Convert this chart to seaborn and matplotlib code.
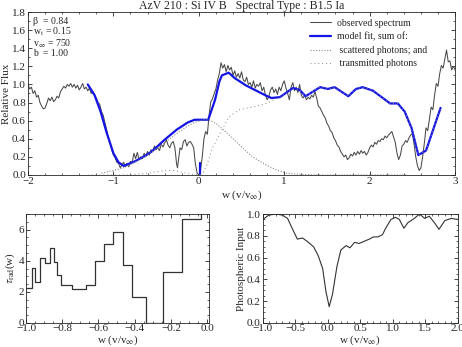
import numpy as np
import pandas as pd
import seaborn as sns
import matplotlib
matplotlib.use('Agg')
import matplotlib.pyplot as plt
from matplotlib.ticker import AutoMinorLocator, MultipleLocator
from matplotlib.lines import Line2D

# observed spectrum (w, relative flux)
obs_w = [-2.00, -1.98, -1.96, -1.94, -1.92, -1.90, -1.88, -1.86, -1.84, -1.82, -1.80, -1.78, -1.76, -1.74,
         -1.72, -1.70, -1.68, -1.66, -1.64, -1.62, -1.60, -1.58, -1.56, -1.54, -1.52, -1.50, -1.48, -1.46,
         -1.44, -1.42, -1.40, -1.38, -1.36, -1.34, -1.32, -1.30, -1.28, -1.26, -1.24, -1.22, -1.20, -1.18,
         -1.16, -1.14, -1.12, -1.10, -1.08, -1.06, -1.04, -1.02, -1.00, -0.98, -0.96, -0.94, -0.92, -0.90,
         -0.88, -0.86, -0.84, -0.82, -0.80, -0.78, -0.76, -0.74, -0.72, -0.70, -0.68, -0.66, -0.64, -0.62,
         -0.60, -0.58, -0.56, -0.54, -0.52, -0.50, -0.48, -0.46, -0.44, -0.42, -0.40, -0.38, -0.36, -0.34,
         -0.32, -0.30, -0.28, -0.26, -0.25, -0.24, -0.22, -0.20, -0.18, -0.16, -0.14, -0.12, -0.10, -0.08,
         -0.06, -0.04, -0.02, 0.00, 0.02, 0.04, 0.06, 0.08, 0.10, 0.12, 0.14, 0.16, 0.18, 0.20, 0.22, 0.24,
         0.26, 0.28, 0.30, 0.32, 0.34, 0.36, 0.38, 0.40, 0.42, 0.44, 0.46, 0.48, 0.50, 0.52, 0.54, 0.56,
         0.58, 0.60, 0.62, 0.64, 0.66, 0.68, 0.70, 0.72, 0.74, 0.76, 0.78, 0.80, 0.82, 0.84, 0.86, 0.88,
         0.90, 0.92, 0.94, 0.96, 0.98, 1.00, 1.02, 1.04, 1.06, 1.08, 1.10, 1.12, 1.14, 1.16, 1.18, 1.20,
         1.22, 1.24, 1.26, 1.28, 1.30, 1.32, 1.34, 1.36, 1.38, 1.40, 1.42, 1.44, 1.46, 1.48, 1.50, 1.52,
         1.54, 1.56, 1.58, 1.60, 1.62, 1.64, 1.66, 1.68, 1.70, 1.72, 1.74, 1.76, 1.78, 1.80, 1.82, 1.84,
         1.86, 1.88, 1.90, 1.92, 1.94, 1.96, 1.98, 2.00, 2.02, 2.04, 2.06, 2.08, 2.10, 2.12, 2.14, 2.16,
         2.18, 2.20, 2.22, 2.24, 2.26, 2.28, 2.30, 2.32, 2.34, 2.36, 2.38, 2.40, 2.42, 2.44, 2.46, 2.48,
         2.50, 2.52, 2.54, 2.56, 2.58, 2.60, 2.62, 2.64, 2.66, 2.68, 2.70, 2.72, 2.74, 2.76, 2.78, 2.80,
         2.82, 2.84, 2.86, 2.88, 2.90, 2.92, 2.94, 2.96, 2.98, 3.00]
obs_flux = [1.00, 0.95, 0.97, 0.90, 0.93, 0.86, 0.88, 0.80, 0.76, 0.73, 0.74, 0.79, 0.85, 0.82,
            0.86, 0.81, 0.83, 0.87, 0.85, 0.92, 0.95, 0.98, 0.96, 1.00, 0.98, 1.01, 0.97, 1.00,
            0.96, 0.99, 0.94, 0.97, 1.01, 0.95, 0.97, 0.93, 0.96, 0.90, 0.92, 0.88, 0.85, 0.80,
            0.78, 0.70, 0.66, 0.58, 0.50, 0.42, 0.36, 0.28, 0.22, 0.19, 0.14, 0.13, 0.08, 0.11,
            0.14, 0.09, 0.13, 0.09, 0.15, 0.14, 0.24, 0.18, 0.25, 0.17, 0.20, 0.18, 0.24, 0.21,
            0.26, 0.22, 0.28, 0.26, 0.32, 0.28, 0.30, 0.27, 0.34, 0.31, 0.35, 0.39, 0.33, 0.30,
            0.35, 0.37, 0.30, 0.12, 0.08, 0.15, 0.30, 0.28, 0.37, 0.39, 0.32, 0.36, 0.37, 0.34,
            0.30, 0.12, 0.02, 0.00, 0.05, 0.20, 0.40, 0.48, 0.45, 0.66, 0.81, 0.84, 0.90, 0.95, 1.05, 1.12,
            1.24, 1.18, 1.22, 1.14, 1.21, 1.16, 1.19, 1.10, 1.15, 1.08, 1.12, 1.07, 1.14, 1.05, 1.03, 1.08,
            1.00, 1.02, 0.97, 1.04, 0.96, 1.00, 0.98, 1.02, 0.93, 0.97, 0.88, 0.83, 0.87, 0.94, 0.97, 0.91,
            0.95, 0.89, 0.97, 0.93, 1.00, 1.04, 0.96, 0.90, 0.83, 0.97, 1.02, 0.93, 0.97, 0.91, 1.00, 0.88,
            0.85, 0.88, 0.83, 0.86, 0.84, 0.88, 0.86, 0.92, 0.85, 0.76, 0.74, 0.70, 0.66, 0.63, 0.57, 0.54,
            0.49, 0.47, 0.41, 0.38, 0.33, 0.31, 0.26, 0.23, 0.20, 0.22, 0.17, 0.19, 0.23, 0.21, 0.25, 0.22,
            0.26, 0.23, 0.27, 0.24, 0.26, 0.22, 0.25, 0.30, 0.33, 0.31, 0.36, 0.34, 0.38, 0.37, 0.40, 0.39,
            0.43, 0.41, 0.44, 0.46, 0.48, 0.42, 0.36, 0.24, 0.17, 0.22, 0.32, 0.34, 0.38, 0.36, 0.41, 0.44,
            0.46, 0.34, 0.20, 0.10, 0.05, 0.08, 0.20, 0.35, 0.52, 0.49, 0.62, 0.75, 0.72, 0.88, 1.01, 0.98,
            1.12, 1.21, 1.18, 1.28, 1.38, 1.25, 1.26, 1.16, 1.20, 1.16]

# model fit
model_w = [-1.30, -1.22, -1.15, -1.08, -1.00, -0.94, -0.88, -0.75, -0.63, -0.55, -0.40, -0.26, -0.13,
           -0.05, 0.11, 0.19, 0.24, 0.27, 0.35, 0.42, 0.55, 0.78, 0.85, 0.95, 1.10, 1.18, 1.25, 1.42,
           1.51, 1.59, 1.75, 1.84, 1.92, 2.04, 2.24, 2.33, 2.41, 2.49, 2.57, 2.66, 2.83]
model_flux = [1.00, 0.88, 0.70, 0.47, 0.24, 0.14, 0.10, 0.15, 0.21, 0.26, 0.39, 0.50, 0.58,
              0.61, 0.61, 0.83, 1.03, 1.10, 1.13, 1.07, 0.99, 0.88, 0.85, 0.86, 0.96, 0.94, 0.87, 0.97,
              0.95, 0.97, 0.87, 0.95, 0.97, 0.93, 0.79, 0.79, 0.70, 0.52, 0.22, 0.27, 0.74]
model2_w = [0.008, 0.008]
model2_flux = [0.13, 0.0]

# scattered photons
scat_w = [-1.14, -1.00, -0.88, -0.75, -0.60, -0.45, -0.30, -0.15, -0.05, 0.05, 0.12, 0.20, 0.25,
          0.30, 0.39, 0.50, 0.63, 0.79, 0.90, 1.02, 1.15, 1.40, 1.80, 2.20, 2.45]
scat_flux = [0.02, 0.05, 0.08, 0.14, 0.22, 0.32, 0.43, 0.53, 0.58, 0.61, 0.61, 0.57, 0.53,
             0.49, 0.41, 0.31, 0.20, 0.11, 0.06, 0.02, 0.01, 0.0, 0.0, 0.0, 0.0]

# transmitted photons
trans_w = [-1.30, -1.00, -0.80, -0.60, -0.40, -0.30, -0.20, -0.10, 0.00, 0.05, 0.10, 0.15, 0.25,
           0.35, 0.47, 0.63, 0.79, 0.95, 1.10, 1.18, 1.25, 1.42, 1.51, 1.59, 1.75, 1.84, 1.92, 2.04,
           2.24, 2.33, 2.41, 2.49, 2.57, 2.66, 2.83]
trans_flux = [0.0, 0.0, 0.0, 0.02, 0.05, 0.05, 0.03, 0.01, 0.0, 0.03, 0.12, 0.28, 0.46,
              0.64, 0.72, 0.75, 0.79, 0.86, 0.95, 0.94, 0.87, 0.97, 0.95, 0.97, 0.87, 0.95, 0.97, 0.93,
              0.79, 0.79, 0.70, 0.52, 0.22, 0.27, 0.74]

# tau_rad step function (bin left edges)
tau_w = [-1.000, -0.969, -0.950, -0.922, -0.893, -0.870, -0.848, -0.830, -0.809, -0.746, -0.670,
         -0.617, -0.569, -0.519, -0.467, -0.415, -0.339, -0.241, -0.139, -0.033, 0.0]
tau_val = [2.27, 3.52, 2.61, 4.15, 3.84, 4.82, 3.91, 3.11, 2.42, 2.16, 2.42,
           3.97, 5.10, 5.85, 3.74, 1.68, 0.0, 3.26, 6.65, 7.5, 7.5]

# photospheric input
phot_w = [-1.00, -0.91, -0.80, -0.70, -0.62, -0.55, -0.47, -0.39, -0.32, -0.22, -0.15, -0.08, -0.03,
          0.02, 0.07, 0.14, 0.20, 0.28, 0.34, 0.41, 0.48, 0.56, 0.64, 0.70, 0.77, 0.84, 0.89, 0.97,
          1.04, 1.10, 1.17, 1.23, 1.33, 1.41, 1.49, 1.56, 1.64, 1.71, 1.80, 1.90, 2.00]
phot_val = [0.95, 0.99, 1.00, 0.99, 0.96, 0.87, 0.77, 0.78, 0.75, 0.70, 0.62, 0.50, 0.29,
            0.15, 0.26, 0.52, 0.67, 0.71, 0.69, 0.74, 0.73, 0.75, 0.77, 0.79, 0.79, 0.81, 0.87, 0.95,
            0.97, 0.95, 0.87, 0.92, 0.96, 1.00, 0.96, 0.98, 0.92, 0.86, 0.94, 0.96, 0.95]

sns.set_style('ticks')
plt.rcParams['font.family'] = ['Liberation Serif', 'DejaVu Serif']
plt.rcParams['mathtext.fontset'] = 'stix'
plt.rcParams['font.size'] = 8
plt.rcParams['xtick.direction'] = 'in'
plt.rcParams['ytick.direction'] = 'in'
plt.rcParams['xtick.top'] = True
plt.rcParams['ytick.right'] = True
plt.rcParams['xtick.labelsize'] = 8
plt.rcParams['ytick.labelsize'] = 8
plt.rcParams['axes.linewidth'] = 0.6

fig = plt.figure(figsize=(4.62, 3.47), dpi=100)
ax1 = fig.add_axes([0.0606, 0.4957, 0.9244, 0.4697])
ax2 = fig.add_axes([0.0563, 0.0692, 0.396, 0.314])
ax3 = fig.add_axes([0.569, 0.0692, 0.422, 0.314])

grey = '#4a4a4a'
dots = '#8a8a8a'
blue = '#1414e6'

sns.lineplot(x=obs_w, y=obs_flux, ax=ax1, color=grey, lw=0.75, sort=False, estimator=None)
sns.lineplot(x=model_w, y=model_flux, ax=ax1, color=blue, lw=1.6, sort=False, estimator=None)
sns.lineplot(x=model2_w, y=model2_flux, ax=ax1, color=blue, lw=1.6, sort=False, estimator=None)
sns.lineplot(x=scat_w, y=scat_flux, ax=ax1, color=dots, lw=0.8, ls=(0, (1, 1.5)), sort=False, estimator=None)
sns.lineplot(x=trans_w, y=trans_flux, ax=ax1, color=dots, lw=0.7, ls=(0, (1, 3)), sort=False, estimator=None)

ax1.set_xlim(-2, 3)
ax1.set_ylim(0, 1.8)
ax1.xaxis.set_major_locator(MultipleLocator(1))
ax1.yaxis.set_major_locator(MultipleLocator(0.2))
ax1.xaxis.set_minor_locator(AutoMinorLocator(5))
ax1.yaxis.set_minor_locator(AutoMinorLocator(2))
ax1.set_ylabel('Relative Flux', labelpad=1)
ax1.set_xlabel(r'w (v/v$_\infty$)', labelpad=2)
ax1.set_title('AzV 210 : Si IV B   Spectral Type : B1.5 Ia', fontsize=8.5, pad=2)
ax1.text(0.012, 0.972, 'β  = 0.84\nw$_{\\rm t}$ = 0.15\nv$_\\infty$ = 750\nb  = 1.00',
         transform=ax1.transAxes, ha='left', va='top', fontsize=7, linespacing=0.95)

handles = [Line2D([], [], color=grey, lw=0.75),
           Line2D([], [], color=blue, lw=1.6),
           Line2D([], [], color=dots, lw=0.8, ls=(0, (1, 1.5))),
           Line2D([], [], color=dots, lw=0.7, ls=(0, (1, 3)))]
labels = ['observed spectrum', 'model fit, sum of:', ' scattered photons; and', ' transmitted photons']
ax1.legend(handles, labels, loc='upper right', frameon=False, fontsize=7,
           handlelength=2.2, handletextpad=0.6, labelspacing=0.45, borderaxespad=0.3,
           bbox_to_anchor=(0.95, 1.0))

sns.lineplot(x=tau_w, y=tau_val, ax=ax2, color='#333333', lw=0.9, drawstyle='steps-post',
             sort=False, estimator=None)
ax2.set_xlim(-1.0, 0.01)
ax2.set_ylim(0, 7)
ax2.xaxis.set_major_locator(MultipleLocator(0.2))
ax2.yaxis.set_major_locator(MultipleLocator(2))
ax2.xaxis.set_minor_locator(AutoMinorLocator(4))
ax2.yaxis.set_minor_locator(AutoMinorLocator(4))
ax2.set_xlabel(r'w (v/v$_\infty$)', labelpad=0)
ax2.set_ylabel(r'$\tau_{\rm rad}$(w)', labelpad=1)

sns.lineplot(x=phot_w, y=phot_val, ax=ax3, color='#333333', lw=0.8, sort=False, estimator=None)
ax3.set_xlim(-1.0, 2.0)
ax3.set_ylim(0, 1.0)
ax3.xaxis.set_major_locator(MultipleLocator(0.5))
ax3.yaxis.set_major_locator(MultipleLocator(0.2))
ax3.xaxis.set_minor_locator(AutoMinorLocator(5))
ax3.yaxis.set_minor_locator(AutoMinorLocator(4))
ax3.set_xlabel(r'w (v/v$_\infty$)', labelpad=0)
ax3.set_ylabel('Photospheric Input', labelpad=1)

for ax in (ax1, ax2, ax3):
    ax.tick_params(which='major', length=3, width=0.6, pad=1.5)
    ax.tick_params(which='minor', length=1.5, width=0.5)
    for s in ax.spines.values():
        s.set_visible(True)
for ax in (ax2, ax3):
    ax.tick_params(axis='x', which='major', pad=1)

fig.savefig('out.png', dpi=100)
